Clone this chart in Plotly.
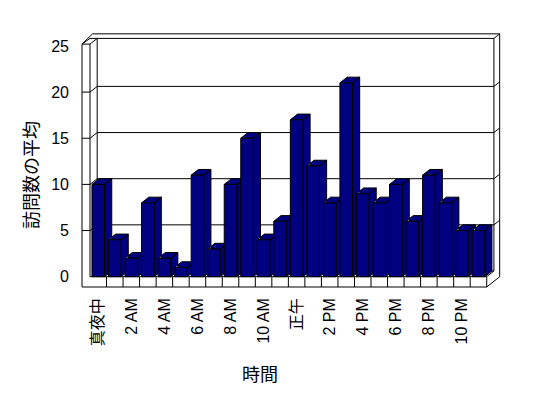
import plotly.graph_objects as go

# ---- data ----
hours = ["真夜中", "1 AM", "2 AM", "3 AM", "4 AM", "5 AM", "6 AM", "7 AM",
         "8 AM", "9 AM", "10 AM", "11 AM", "正午", "1 PM", "2 PM", "3 PM",
         "4 PM", "5 PM", "6 PM", "7 PM", "8 PM", "9 PM", "10 PM", "11 PM"]
visits = [10, 4, 2, 8, 2, 1, 11, 3, 10, 15, 4, 6,
          17, 12, 8, 21, 9, 8, 10, 6, 11, 8, 5, 5]
y_ticks = [0, 5, 10, 15, 20, 25]
x_title = "時間"
y_title = "訪問数の平均"

# ---- layout geometry (pixels; page body has an 8px margin) ----
OFF = 8
W, H = 548 - OFF, 398 - OFF
L, R, T, B = 80 - OFF, 502 - OFF, 30 - OFF, 290 - OFF
x0px, xstep = 90.0 - OFF, 16.53
y0px, ystep = 276.7 - OFF, 9.23
xr = [(L - x0px) / xstep, (R - x0px) / xstep]
yr = [(y0px - B) / ystep, (y0px - T) / ystep]
DX, DY = 7.2 / xstep, 5.7 / ystep
K = 1.8
n = len(hours)
XL = -8 / xstep
XW, XR = 0.0, float(n)
VB = -10.3 / ystep
VT = 25.2
BW = 0.76
FONT = "Liberation Sans, Arial, Noto Sans CJK JP, sans-serif"

shapes = []


def seg(xa, ya, xb, yb):
    shapes.append(dict(type="line", xref="x", yref="y", x0=xa, y0=ya, x1=xb, y1=yb,
                       line=dict(color="black", width=1), layer="below"))


# outer silhouette of the frame
pts = [(XL, VB), (XR, VB), (XR + K * DX, VB + K * DY), (XR + K * DX, VT + K * DY),
       (XW + 0.35 * DX, VT + K * DY), (XL, VT)]
path = "M " + " L ".join(f"{a},{b}" for a, b in pts) + " Z"
shapes.append(dict(type="path", xref="x", yref="y", path=path, fillcolor="white",
                   line=dict(color="black", width=1), layer="below"))
# left wall front face / top
seg(XL, VT, XW, VT)
seg(XW, VT, XW, 0)
seg(XW, VT, XW + DX, VT + DY)
seg(XL, VT, XW, VT + DY)
# back wall face
seg(XW, VT + DY, XR + DX, VT + DY)
seg(XW + DX, VT + DY, XW + DX, DY)
seg(XR + DX, VT + DY, XR + DX, DY)
seg(XR + DX, VT + DY, XR + K * DX, VT + K * DY)
# floor
seg(XW, 0, XR, 0)
seg(XR, 0, XR + DX, DY)
seg(XW + DX, DY, XR + DX, DY)
for k in range(1, n + 1):
    seg(k, VB, k, 0)
# gridlines
for v in y_ticks[1:-1]:
    seg(XL, v, XW, v)
    seg(XW, v, XW + DX, v + DY)
    seg(XW + DX, v + DY, XR + DX, v + DY)
    seg(XR + DX, v + DY, XR + K * DX, v + K * DY)

# ---- bar side and top faces ----
sx, sy = [], []
for i, h in enumerate(visits):
    c = i + 0.5
    a, b = c - BW / 2, c + BW / 2
    sx += [a, b, b + DX, a + DX, a, None]
    sy += [h, h, h + DY, h + DY, h, None]
    sx += [b, b, b + DX, b + DX, b, None]
    sy += [0, h, h + DY, DY, 0, None]

fig = go.Figure()
fig.add_trace(go.Scatter(x=sx, y=sy, mode="lines", fill="toself", fillcolor="#000080",
                         line=dict(color="black", width=1), hoverinfo="skip",
                         showlegend=False, xaxis="x", yaxis="y"))
fig.add_trace(go.Bar(x=[i + 0.5 for i in range(n)], y=visits, width=BW,
                     marker=dict(color="#000080", line=dict(color="black", width=1)),
                     showlegend=False, xaxis="x2", yaxis="y2"))

fig.update_layout(
    width=W, height=H,
    margin=dict(l=L, r=W - R, t=T, b=H - B, pad=0),
    paper_bgcolor="white", plot_bgcolor="white",
    font=dict(family=FONT, size=16, color="black"),
    shapes=shapes,
    xaxis=dict(range=xr, showgrid=False, zeroline=False, showline=False,
               tickmode="array", tickvals=[i + 0.5 for i in range(0, n, 2)],
               ticktext=hours[::2], tickangle=-90, ticks="",
               ticklabelstandoff=4, tickfont=dict(size=16)),
    yaxis=dict(range=yr, showgrid=False, zeroline=False, showline=False,
               tickmode="array", tickvals=y_ticks, ticks="",
               ticklabelstandoff=10, tickfont=dict(size=16)),
    xaxis2=dict(range=xr, overlaying="x", anchor="y2", visible=False),
    yaxis2=dict(range=yr, overlaying="y", anchor="x2", visible=False),
    annotations=[
        dict(text=x_title, xref="paper", yref="paper",
             x=(260 - OFF - L) / (R - L), y=(B - (375 - OFF)) / (B - T),
             showarrow=False, font=dict(size=18), xanchor="center", yanchor="middle"),
        dict(text=y_title, xref="paper", yref="paper",
             x=(32 - OFF - L) / (R - L), y=(B - (175 - OFF)) / (B - T), textangle=-90,
             showarrow=False, font=dict(size=18), xanchor="center", yanchor="middle"),
    ],
)

fig.write_html("out.html")
